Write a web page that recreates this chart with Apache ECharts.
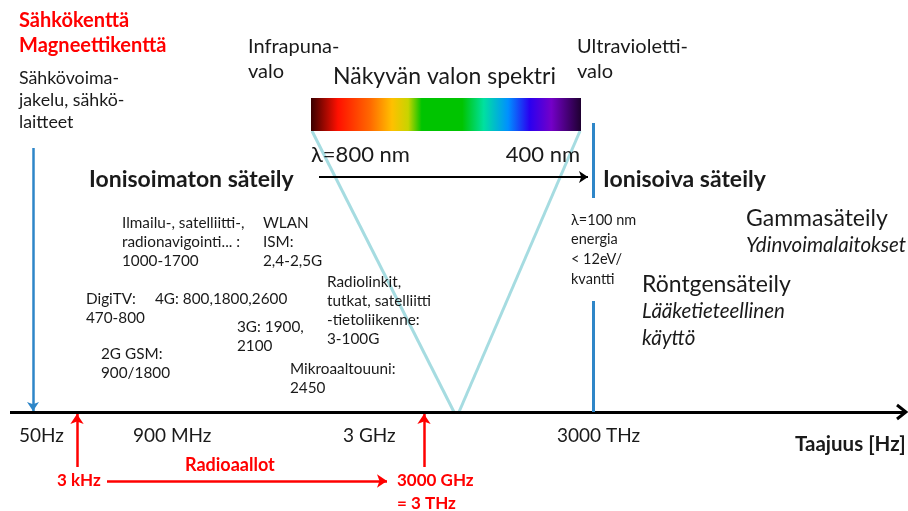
<!DOCTYPE html>
<html>
<head>
<meta charset="utf-8">
<script src="https://cdn.jsdelivr.net/npm/echarts@6/dist/echarts.min.js"></script>
<style>
  html, body { margin: 0; padding: 0; background: #fff; }
  #chart { width: 908px; height: 511px; }
</style>
</head>
<body>
<div id="chart"></div>
<script>
// sivun koordinaatisto: x 0..908, y 0..511 (y alaspäin)
var fieldTitle = ['Sähkökenttä\nMagneettikenttä'];
var fieldTitlePos = [[19, 8]];

var lowFreqText = ['Sähkövoima-\njakelu, sähkö-\nlaitteet'];
var lowFreqPos = [[19, 67]];

var lightLabels = ['Infrapuna-\nvalo', 'Ultravioletti-\nvalo'];
var lightLabelPos = [[248, 34], [577, 34]];

var spectrumTitle = ['Näkyvän valon spektri'];
var spectrumTitlePos = [[333, 63]];

var wavelengthLabels = ['λ=800 nm', '400 nm'];
var wavelengthPos = [[311, 142], [580, 142]];

var radiationTitles = ['Ionisoimaton säteily', 'Ionisoiva säteily'];
var radiationTitlePos = [[89, 166], [603, 166]];

var ionLimitText = ['λ=100 nm\nenergia\n< 12eV/\nkvantti'];
var ionLimitPos = [[571, 210]];

var ionTypes = ['Gammasäteily', 'Röntgensäteily'];
var ionTypePos = [[746, 205], [642, 271]];
var ionUses = ['Ydinvoimalaitokset', 'Lääketieteellinen\nkäyttö'];
var ionUsePos = [[746, 232], [642, 298]];

var services = [
  'Ilmailu-, satelliitti-,\nradionavigointi... :\n1000-1700',
  'WLAN\nISM:\n2,4-2,5G',
  'Radiolinkit,\ntutkat, satelliitti\n-tietoliikenne:\n3-100G',
  'DigiTV:\n470-800',
  '4G: 800,1800,2600',
  '3G: 1900,\n2100',
  '2G GSM:\n900/1800',
  'Mikroaaltouuni:\n2450'
];
var servicePos = [[122, 214], [263, 214], [327, 273], [86, 290], [155, 290], [237, 318], [101, 345], [290, 360]];

var freqTicks = ['50Hz', '900 MHz', '3 GHz', '3000 THz'];
var freqTickPos = [[19, 424], [133, 424], [343, 424], [557, 424]];
var axisName = ['Taajuus [Hz]'];
var axisNamePos = [[795, 432]];

var radioBand = ['3 kHz', '3000 GHz\n= 3 THz'];
var radioBandPos = [[57, 469], [397, 469]];
var radioName = ['Radioaallot'];
var radioNamePos = [[185, 453]];

// viivat
var freqAxis = [[[10, 412], [906, 412]]];
var visibleArrow = [[[319, 177], [588, 177]]];
var powerArrow = [[[33, 148], [33, 411]]];
var radioArrows = [[[77, 467], [77, 414]], [[424, 467], [424, 414]], [[107, 481], [387, 481]]];
var ionBoundary = [[[593, 123], [593, 198]], [[593, 301], [593, 412]]];
var spectrumFan = [[[312, 131], [454, 412]], [[580, 131], [459, 412]]];
var spectrumBox = [[311, 98, 581, 131]];

var spectrumColors = [
  [0, '#3a0000'], [0.1, '#ff1000'], [0.22, '#ff6a00'], [0.3, '#ffc000'],
  [0.36, '#c8d400'], [0.41, '#00c400'], [0.56, '#00c400'], [0.64, '#00e0a0'],
  [0.73, '#0090ff'], [0.81, '#2a00f0'], [0.89, '#7400c8'], [1, '#1e0030']
];

var FONT = 'Lato, "Noto Sans", sans-serif';

function textSeries(texts, anchors, st) {
  return {
    type: 'custom',
    coordinateSystem: 'cartesian2d',
    silent: true,
    clip: false,
    data: anchors.map(function (a, i) { return [a[0], a[1], i]; }),
    renderItem: function (params, api) {
      var p = api.coord([api.value(0), api.value(1)]);
      return {
        type: 'text',
        x: p[0],
        y: p[1],
        style: {
          text: texts[api.value(2)],
          fill: st.color || '#1a1a1a',
          fontSize: st.size,
          fontWeight: st.weight || 'normal',
          fontStyle: st.italic ? 'italic' : 'normal',
          fontFamily: FONT,
          lineHeight: st.lh,
          align: st.align || 'left',
          verticalAlign: 'top'
        }
      };
    }
  };
}

function lineSeries(coords, color, width, arrow, arrowSize) {
  return {
    type: 'lines',
    coordinateSystem: 'cartesian2d',
    silent: true,
    symbol: arrow ? ['none', 'arrow'] : ['none', 'none'],
    symbolSize: arrowSize || 8,
    lineStyle: { color: color, width: width, opacity: 1 },
    data: coords.map(function (c) { return { coords: c }; })
  };
}

var chart = echarts.init(document.getElementById('chart'));

var spectrumSeries = {
  type: 'custom',
  coordinateSystem: 'cartesian2d',
  silent: true,
  data: spectrumBox,
  renderItem: function (params, api) {
    var a = api.coord([api.value(0), api.value(1)]);
    var b = api.coord([api.value(2), api.value(3)]);
    return {
      type: 'rect',
      shape: { x: a[0], y: a[1], width: b[0] - a[0], height: b[1] - a[1] },
      style: {
        fill: new echarts.graphic.LinearGradient(0, 0, 1, 0, spectrumColors.map(function (s) {
          return { offset: s[0], color: s[1] };
        }))
      }
    };
  }
};

// avoin nuolenkärki taajuusakselin päähän
var axisHead = {
  type: 'custom',
  coordinateSystem: 'cartesian2d',
  silent: true,
  clip: false,
  data: [freqAxis[0][1]],
  renderItem: function (params, api) {
    var p = api.coord([api.value(0), api.value(1)]);
    return {
      type: 'polyline',
      shape: { points: [[p[0] - 9, p[1] - 7], [p[0], p[1]], [p[0] - 9, p[1] + 7]] },
      style: { stroke: '#000', lineWidth: 3, fill: null }
    };
  }
};

chart.setOption({
  animation: false,
  grid: { left: 0, right: 0, top: 0, bottom: 0 },
  xAxis: { type: 'value', min: 0, max: 908, show: false },
  yAxis: { type: 'value', min: 0, max: 511, inverse: true, show: false },
  series: [
    lineSeries(spectrumFan, '#a6dce1', 3, false),
    spectrumSeries,
    lineSeries(freqAxis, '#000', 3, false),
    axisHead,
    lineSeries(visibleArrow, '#000', 2, true, 9),
    lineSeries(powerArrow, '#2e86c8', 2.5, true, 9),
    lineSeries(ionBoundary, '#2e86c8', 3, false),
    lineSeries(radioArrows, '#ff0000', 2.5, true, 10),
    textSeries(fieldTitle, fieldTitlePos, { size: 20, weight: 'bold', lh: 25, color: '#ff0000' }),
    textSeries(lowFreqText, lowFreqPos, { size: 17.8, lh: 22 }),
    textSeries(lightLabels, lightLabelPos, { size: 20, lh: 25 }),
    textSeries(spectrumTitle, spectrumTitlePos, { size: 23, lh: 28 }),
    textSeries(wavelengthLabels.slice(0, 1), wavelengthPos.slice(0, 1), { size: 22, lh: 26 }),
    textSeries(wavelengthLabels.slice(1), wavelengthPos.slice(1), { size: 22, lh: 26, align: 'right' }),
    textSeries(radiationTitles, radiationTitlePos, { size: 23, weight: 'bold', lh: 28 }),
    textSeries(ionLimitText, ionLimitPos, { size: 14.5, lh: 19.7 }),
    textSeries(ionTypes, ionTypePos, { size: 23, lh: 28 }),
    textSeries(ionUses, ionUsePos, { size: 20.5, lh: 27, italic: true }),
    textSeries(services, servicePos, { size: 15.3, lh: 18.8 }),
    textSeries(freqTicks, freqTickPos, { size: 19, lh: 24 }),
    textSeries(axisName, axisNamePos, { size: 20.5, weight: 'bold', lh: 24 }),
    textSeries(radioBand, radioBandPos, { size: 17, weight: 'bold', lh: 23, color: '#ff0000' }),
    textSeries(radioName, radioNamePos, { size: 18, weight: 'bold', lh: 24, color: '#ff0000' })
  ]
});
</script>
</body>
</html>
